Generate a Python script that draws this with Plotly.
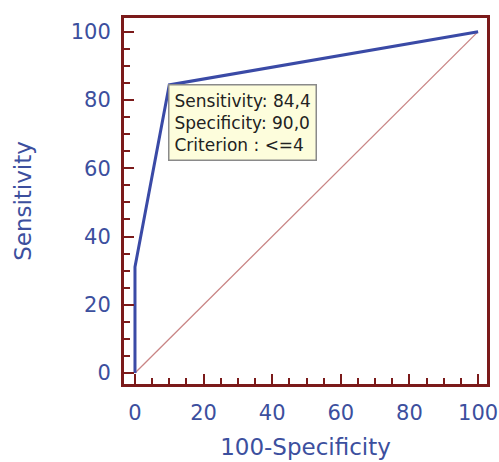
import plotly.graph_objects as go

# ROC data
fpr = [0, 0, 10, 100]          # 100-Specificity
tpr = [0, 31.1, 84.4, 100]     # Sensitivity
diag_x = [0, 100]
diag_y = [0, 100]
tick_vals = [0, 20, 40, 60, 80, 100]
box_lines = ["Sensitivity: 84,4", "Specificity: 90,0", "Criterion : <=4"]

frame = "#7b1a1a"
blue = "#3a4aa6"
label_blue = "#3c4f9e"
fam = "DejaVu Sans"

fig = go.Figure()
fig.add_trace(go.Scatter(x=diag_x, y=diag_y, mode="lines",
                         line=dict(color="#c98585", width=1.3), hoverinfo="skip"))
fig.add_trace(go.Scatter(x=fpr, y=tpr, mode="lines",
                         line=dict(color=blue, width=3), hoverinfo="skip"))

fig.add_annotation(x=10, y=84.4, xref="x", yref="y", xanchor="left", yanchor="top",
                   text="<br>".join(box_lines), showarrow=False, align="left",
                   bgcolor="#fdfddc", bordercolor="#8a8a8a", borderwidth=1.5,
                   borderpad=5, xshift=-1, yshift=1,
                   font=dict(family=fam, size=17, color="#222222"))

axis_common = dict(showgrid=False, zeroline=False, showline=True, mirror=True,
                   linecolor=frame, linewidth=3, ticks="inside", ticklen=10,
                   tickwidth=2, tickcolor=frame, tickvals=tick_vals, automargin=False,
                   tickfont=dict(family=fam, size=21, color=label_blue),
                   minor=dict(dtick=5, ticks="inside", ticklen=6, tickwidth=2, tickcolor=frame))

fig.update_xaxes(range=[-3.2, 102.6], ticklabelstandoff=8,
                 title=dict(text="100-Specificity",
                            font=dict(family=fam, size=23, color=label_blue), standoff=15),
                 **axis_common)
fig.update_yaxes(range=[-3.2, 104.0], ticklabelstandoff=6,
                 title=dict(text="Sensitivity",
                            font=dict(family=fam, size=23, color=label_blue), standoff=33),
                 **axis_common)

fig.update_layout(width=499, height=462, showlegend=False,
                  plot_bgcolor="white", paper_bgcolor="white",
                  margin=dict(l=124, r=12, t=18, b=78))

fig.write_html("out.html", config={"displayModeBar": False},
               post_script="document.body.style.margin='0';document.body.style.overflow='hidden';")
